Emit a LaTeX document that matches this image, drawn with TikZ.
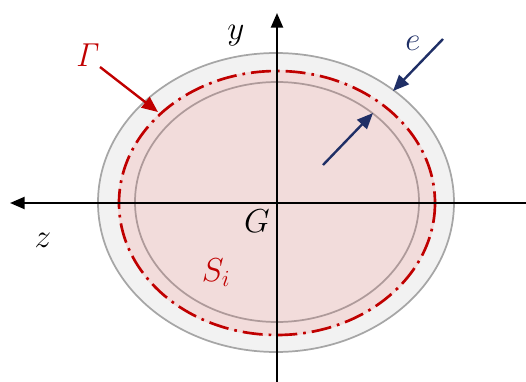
\documentclass[tikz,border=0pt]{standalone}
\usepackage{amsmath}
\usepackage{tikz}
\usetikzlibrary{arrows.meta}
\definecolor{axisred}{HTML}{C00000}
\definecolor{navy}{HTML}{1F2F66}
\definecolor{shellbg}{HTML}{F2F2F2}
\definecolor{shellrule}{HTML}{A6A6A6}
\definecolor{corebg}{HTML}{F2DCDB}
\definecolor{corerule}{HTML}{AE9A9A}

\begin{document}
\begin{tikzpicture}[x=0.75pt,y=-0.75pt,
  lbl/.style={font=\fontsize{26}{30}\selectfont,inner sep=0pt},
  axis/.style={-{Triangle[length=11pt,width=9pt]},line width=1.7pt,draw=black},
  arr/.style={-{Triangle[length=12pt,width=10pt]},line width=1.8pt}]

\useasboundingbox (0,0) rectangle (526,382);

% section: shell, midline, core
\draw[fill=shellbg,draw=shellrule,line width=1.3pt] (276,202.5) ellipse (178 and 149.5);
\fill[corebg] (277,203) ellipse (159 and 133);
\draw[draw=corerule,line width=1.3pt] (277,202) ellipse (142 and 120);
\draw[draw=axisred,line width=2pt,dash pattern=on 15pt off 4.5pt on 2pt off 4.5pt]
  (277,203) ellipse (158 and 132);

% axes
\coordinate (zend) at (10,203);
\coordinate (xend) at (526,203);
\coordinate (yend) at (277,13);
\coordinate (ybot) at (277,382);
\draw[axis] (xend) -- (zend);
\draw[axis] (ybot) -- (yend);

\node[lbl] (ylab) at (236,36) {$y$};
\node[lbl] (zlab) at (43,240) {$z$};
\node[lbl] (glab) at (257,221) {$G$};
\node[lbl,text=axisred] (gamma) at (88,55) {$\mathit{\Gamma}$};
\node[lbl,text=axisred] (si) at (216,273) {$S_i$};
\node[lbl,text=navy] (elab) at (413,43) {$e$};

% pointers
\coordinate (gtail) at (100,67);
\coordinate (gtip) at (158,112);
\coordinate (etail) at (443,39);
\coordinate (etip) at (393,91);
\coordinate (itail) at (323,165);
\coordinate (itip) at (373,113);
\draw[arr,draw=axisred,fill=axisred] (gtail) -- (gtip);
\draw[arr,draw=navy,fill=navy] (etail) -- (etip);
\draw[arr,draw=navy,fill=navy] (itail) -- (itip);
\end{tikzpicture}
\end{document}
